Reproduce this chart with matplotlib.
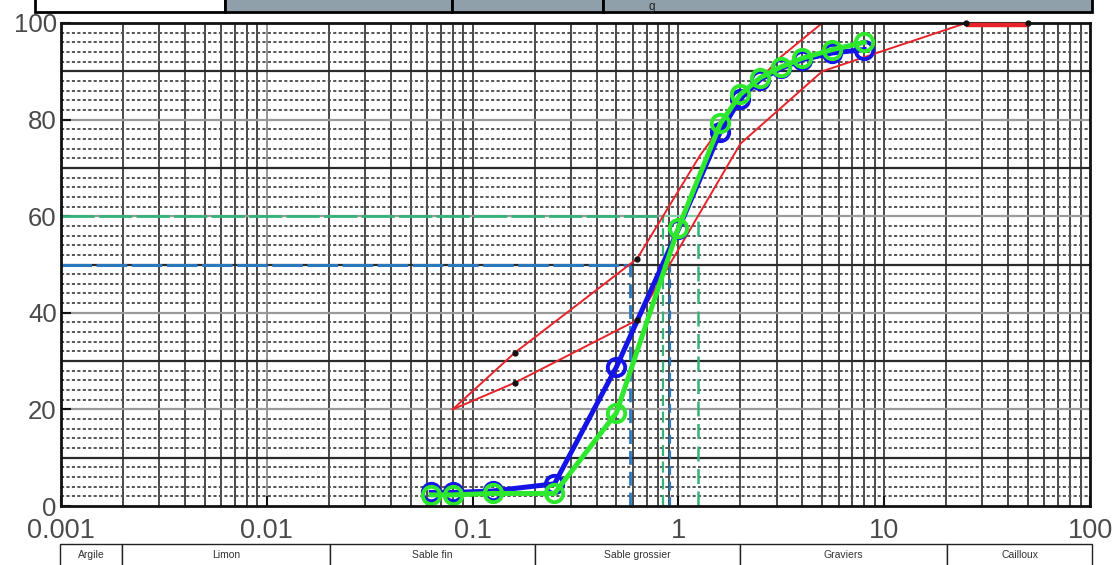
import matplotlib
matplotlib.use("Agg")
import matplotlib.pyplot as plt
from matplotlib.ticker import FixedLocator, NullLocator, FixedFormatter
from matplotlib.patches import Rectangle

plt.rcParams['font.family'] = ['Liberation Sans', 'DejaVu Sans']

# ---------------- data ----------------
sieves = [0.063, 0.08, 0.125, 0.25, 0.5, 1, 1.6, 2, 2.5, 3.15, 4, 5.6, 8]
passing_blue = [2.8, 2.8, 3.1, 4.6, 28.8, 57.3, 77.5, 84.3, 88.3, 90.6, 92.4, 93.8, 94.5]
passing_green = [2.3, 2.3, 2.6, 2.6, 19.3, 57.6, 79.2, 85.2, 88.7, 90.9, 92.7, 94.5, 96.0]

upper_x = [0.08, 0.16, 0.63, 1.27, 2.0, 3.15, 5.0, 25, 50]
upper_y = [20, 31.7, 51.2, 72.5, 84, 93, 100, 100, 100]
lower_x = [0.08, 0.16, 0.63, 2.0, 5.0, 25, 50]
lower_y = [20, 25.5, 38.5, 75, 90, 100, 100]

d50_level = 50
d50_upper, d50_lower = 0.58, 0.906
d60_level = 60
d60_upper, d60_lower = 0.84, 1.243

y_ticks = [0, 20, 40, 60, 80, 100]
x_ticks = [0.001, 0.01, 0.1, 1, 10, 100]
x_tick_labels = ['0.001', '0.01', '0.1', '1', '10', '100']

classes = ['Argile', 'Limon', 'Sable fin', 'Sable grossier', 'Graviers', 'Cailloux']
class_edges_px = [60, 122, 330, 535, 740, 947, 1092]

# ---------------- figure ----------------
W, H = 1112, 565
fig = plt.figure(figsize=(W / 100, H / 100), dpi=100)
ax_l, ax_r, ax_t, ax_b = 61, 1090, 23, 506
ax = fig.add_axes([ax_l / W, 1 - ax_b / H, (ax_r - ax_l) / W, (ax_b - ax_t) / H])
ax.set_xscale('log')
ax.set_xlim(0.001, 100)
ax.set_ylim(0, 100)

# grid: vertical log lines
for dec in [0.001, 0.01, 0.1, 1, 10]:
    for k in range(1, 10):
        v = dec * k
        if v <= 0.001 or v >= 100:
            continue
        col = '#8a8a8a' if (k == 1 and dec == 0.01) else '#3a3a3a'
        ax.axvline(v, color=col, lw=1.3, zorder=1)
# horizontal lines
for yv in range(2, 100, 2):
    if yv % 20 == 0:
        ax.axhline(yv, color='#9a9a9a', lw=1.6, zorder=1)
    elif yv % 10 == 0:
        ax.axhline(yv, color='#2a2a2a', lw=1.6, zorder=1)
    else:
        ax.axhline(yv, color='#555555', lw=1.4, ls=(0, (1.6, 1.2)), zorder=1)

# dashed reference lines
blue_d = '#2a78c0'
green_d = '#35b27a'
ax.plot([0.001, d50_upper], [d50_level, d50_level], color=blue_d, lw=2.2, ls=(0, (10, 1.5)), zorder=3)
ax.plot([d50_upper, d50_upper], [0, d50_level], color=blue_d, lw=2.0, ls=(0, (5, 2.5)), zorder=3)
ax.plot([d50_lower, d50_lower], [0, d50_level], color=blue_d, lw=1.6, ls=(0, (4, 3)), zorder=3)
ax.plot([0.001, d60_upper], [d60_level, d60_level], color=green_d, lw=2.0, ls=(0, (12, 1.5)), zorder=3)
ax.plot([d60_upper, d60_lower], [d60_level, d60_level], color='#7fd6a8', lw=1.2, zorder=3)
ax.plot([d60_upper, d60_upper], [0, d60_level], color=green_d, lw=1.6, ls=(0, (5, 2.5)), zorder=3)
ax.plot([d60_lower, d60_lower], [0, d60_level], color=green_d, lw=1.8, ls=(0, (6, 3)), zorder=3)

# specification envelope
red = '#e8242a'
ax.plot(upper_x[:-2], upper_y[:-2], color=red, lw=1.4, zorder=4)
ax.plot(lower_x, lower_y, color=red, lw=1.4, zorder=4)
ax.plot(lower_x[-2:], [v - 0.4 for v in lower_y[-2:]], color=red, lw=3.2, zorder=9,
        clip_on=False, solid_capstyle='butt')
ax.plot(upper_x[1:3] + lower_x[1:3] + lower_x[-2:], upper_y[1:3] + lower_y[1:3] + lower_y[-2:],
        ls='none', marker='o', ms=3.5, color='#111111', zorder=10, clip_on=False)

# measured curves
ax.plot(sieves, passing_blue, color='#1414e6', lw=3.6, marker='o', ms=12.5, mfc='none',
        mec='#1414e6', mew=2.8, zorder=6)
ax.plot(sieves, passing_green, color='#2ee82e', lw=3.6, marker='o', ms=12.5, mfc='none',
        mec='#2ee82e', mew=2.8, zorder=7)

# axes styling
for s in ax.spines.values():
    s.set_linewidth(2.0)
    s.set_color('#111111')
    s.set_zorder(8)
ax.xaxis.set_major_locator(FixedLocator(x_ticks))
ax.xaxis.set_major_formatter(FixedFormatter(x_tick_labels))
ax.xaxis.set_minor_locator(NullLocator())
ax.yaxis.set_major_locator(FixedLocator(y_ticks))
ax.yaxis.set_minor_locator(NullLocator())
ax.tick_params(axis='both', direction='in', length=7, width=1.5, color='#111111',
               labelcolor='#4a4a4a')
ax.tick_params(axis='x', labelsize=19.5, pad=9)
ax.tick_params(axis='y', labelsize=18.5, pad=3)

# header table (top, cut off)
def px2fig(x, y):
    return x / W, 1 - y / H

hdr_top, hdr_bot = -5, 12
cells = [(35, 225, 'white'), (225, 452, '#8fa0ab'), (452, 603, '#8fa0ab'), (603, 1092, '#8fa0ab')]
for x0, x1, fc in cells:
    fx0, fy1 = px2fig(x0, hdr_bot)
    fx1, fy0 = px2fig(x1, hdr_top)
    fig.add_artist(Rectangle((fx0, fy1), fx1 - fx0, fy0 - fy1, transform=fig.transFigure,
                             facecolor=fc, edgecolor='black', lw=2.0))
gx, gy = px2fig(652, 1)
fig.text(gx, gy, 'g', ha='center', va='top', fontsize=8.5, color='#222222')

# bottom classification table
tb_top, tb_bot = 544, 575
for x0, x1, name in zip(class_edges_px[:-1], class_edges_px[1:], classes):
    fx0, fy1 = px2fig(x0, tb_bot)
    fx1, fy0 = px2fig(x1, tb_top)
    fig.add_artist(Rectangle((fx0, fy1), fx1 - fx0, fy0 - fy1, transform=fig.transFigure,
                             facecolor='white', edgecolor='#222222', lw=1.0))
    tx, ty = px2fig((x0 + x1) / 2, 555)
    fig.text(tx, ty, name, ha='center', va='center', fontsize=7.5, color='#333333')

fig.savefig('out.png', dpi=100)
